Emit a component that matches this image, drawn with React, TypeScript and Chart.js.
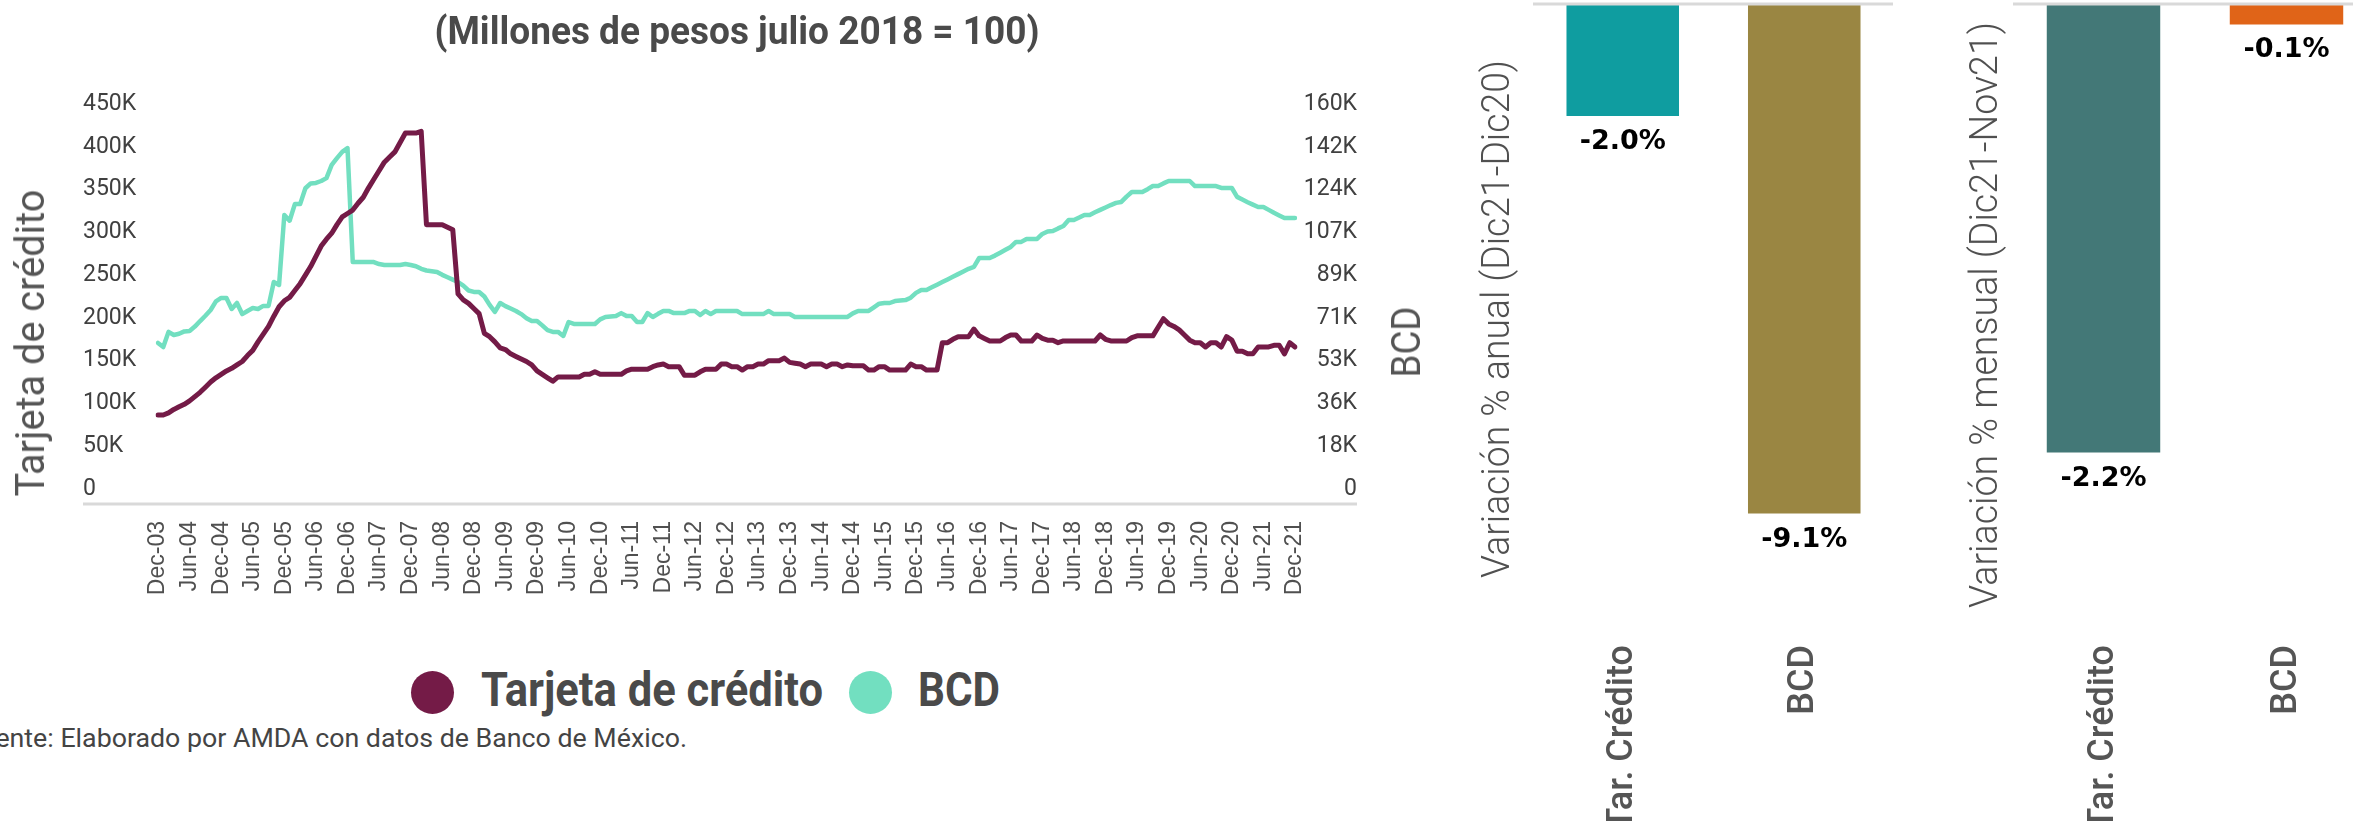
import React, { useEffect, useRef } from 'react';
import { Chart, registerables } from 'chart.js';

Chart.register(...registerables);
Chart.defaults.font.family = 'Roboto';

// ---------------- DATA ----------------
const TITLE = '(Millones de pesos julio 2018 = 100)';
const SERIES_NAMES = ['Tarjeta de crédito', 'BCD'];
const SOURCE = 'Fuente: Elaborado por AMDA con datos de Banco de México.';

const MONTH_NAMES = ['Jan', 'Feb', 'Mar', 'Apr', 'May', 'Jun', 'Jul', 'Aug', 'Sep', 'Oct', 'Nov', 'Dec'];
const FIRST_MONTH_INDEX = 11; // Dec
const FIRST_YEAR = 2003;

// Tarjeta de crédito, thousands of pesos, monthly Dec-03 .. Dec-21
const TARJETA = [
  86.5, 86.5, 89, 93, 96, 99, 103, 108, 113, 119,
  125, 130, 134, 138, 141, 145, 149, 156, 162, 172,
  181, 190, 202, 213, 220, 224, 232, 240, 250, 260,
  272, 284, 292, 299, 309, 318, 322, 326, 334, 341,
  352, 362, 372, 382, 388, 394, 405, 416, 416, 416,
  418, 309, 309, 309, 309, 306, 303, 228, 221, 217,
  211, 205, 182, 178, 172, 165, 163, 158, 155, 152,
  149, 145, 138, 134, 130, 126, 131, 131, 131, 131,
  131, 134, 134, 137, 134, 134, 134, 134, 134, 138,
  140, 140, 140, 140, 143, 145, 146, 143, 143, 143,
  133, 133, 133, 137, 140, 140, 140, 146, 146, 143,
  143, 139, 143, 143, 146, 146, 150, 150, 150, 153,
  148, 147, 146, 143, 146, 146, 146, 143, 146, 146,
  143, 145, 144, 144, 144, 139, 139, 143, 143, 139,
  139, 139, 139, 146, 143, 143, 139, 139, 139, 171,
  171, 175, 178, 178, 178, 187, 179, 176, 173, 173,
  173, 177, 180, 180, 173, 173, 173, 180, 176, 174,
  174, 171, 173, 173, 173, 173, 173, 173, 173, 180,
  175, 173, 173, 173, 173, 177, 179, 179, 179, 179,
  189, 199, 193, 190, 186, 180, 174, 171, 171, 166,
  171, 171, 166, 178, 174, 161, 161, 158, 158, 166,
  166, 166, 168, 168, 158, 171, 166,
];

// BCD, thousands of pesos, monthly Dec-03 .. Dec-21
const BCD = [
  60.7, 59.0, 65.3, 64.0, 64.5, 65.5, 65.7, 67.5, 69.8, 72,
  74.4, 78, 79.4, 79.4, 74.8, 77.3, 72.7, 74, 75.2, 74.8,
  76.1, 76.1, 86.0, 84.8, 113.9, 111.5, 118.4, 118.4, 125, 127,
  127.2, 128, 129.2, 134.7, 137.5, 140.1, 141.7, 94.3, 94.3, 94.3,
  94.3, 94.3, 93.5, 93.1, 93.1, 93.1, 93.1, 93.5, 93.1, 92.6,
  91.5, 90.8, 90.5, 90.2, 89, 88, 87, 86, 84.5, 82.5,
  81.9, 81.9, 80, 76.5, 73.6, 77.3, 76, 75, 74, 72.7,
  71, 69.8, 69.8, 68, 66, 65.3, 65.3, 63.6, 69.4, 68.6,
  68.6, 68.6, 68.6, 68.6, 70.5, 71.5, 71.7, 71.9, 73.1, 71.9,
  71.9, 69.4, 69.4, 73.1, 71.5, 72.8, 74.0, 74.0, 73.1, 73.1,
  73.1, 74.0, 74.0, 72.3, 74.0, 72.7, 74.0, 74.0, 74.0, 74.0,
  74.0, 72.7, 72.7, 72.7, 72.7, 72.7, 74.0, 72.7, 72.7, 72.7,
  72.7, 71.5, 71.5, 71.5, 71.5, 71.5, 71.5, 71.5, 71.5, 71.5,
  71.5, 71.5, 73, 74.0, 74.0, 74.0, 75.5, 77, 77.3, 77.3,
  78.1, 78.3, 78.5, 79.5, 81.5, 82.7, 82.7, 83.8, 84.9, 86,
  87.1, 88.2, 89.3, 90.4, 91.5, 92.3, 96.0, 96.0, 96.0, 97,
  98.2, 99.4, 100.6, 102.7, 102.7, 103.9, 103.9, 103.9, 106, 107,
  107.2, 108.3, 109.3, 111.8, 111.8, 112.8, 113.9, 113.9, 115, 116,
  117, 118, 118.9, 119.3, 121.5, 123.4, 123.4, 123.4, 124.6, 125.9,
  125.9, 127, 128.0, 128.0, 128.0, 128.0, 128.0, 125.9, 125.9, 125.9,
  125.9, 125.9, 125.1, 125.1, 125.1, 121.4, 120.3, 119.2, 118.2, 117.2,
  117.2, 116, 114.8, 113.7, 112.6, 112.6, 112.6,
];

const LEFT_TICK_LABELS = ['0', '50K', '100K', '150K', '200K', '250K', '300K', '350K', '400K', '450K'];
const LEFT_STEP = 50;
const RIGHT_TICK_LABELS = ['0', '18K', '36K', '53K', '71K', '89K', '107K', '124K', '142K', '160K'];
const RIGHT_MAX = 160;

const BAR_CATEGORIES = ['Tar. Crédito', 'BCD'];
const ANNUAL_TITLE = 'Variación % anual (Dic21-Dic20)';
const ANNUAL_VALUES = [-2.0, -9.1];
const MONTHLY_TITLE = 'Variación % mensual (Dic21-Nov21)';
const MONTHLY_VALUES = [-2.2, -0.1];

// ---------------- STYLE ----------------
const C_TARJETA = '#741B47';
const C_BCD = '#72DFC0';
const ANNUAL_COLORS = ['#0F9DA0', '#9A8642'];
const MONTHLY_COLORS = ['#437877', '#E06418'];
const TEXT = '#4a4a4a';

const DATE_LABELS: string[] = TARJETA.map((_, i) => {
  const k = FIRST_MONTH_INDEX + i;
  const yy = (FIRST_YEAR + Math.floor(k / 12)) % 100;
  return `${MONTH_NAMES[k % 12]}-${String(yy).padStart(2, '0')}`;
});

const measureCanvas = typeof document !== 'undefined' ? document.createElement('canvas') : null;
function measure(text: string, font: string): number {
  const ctx = measureCanvas!.getContext('2d')!;
  ctx.font = font;
  return ctx.measureText(text).width;
}

type LabelProps = {
  text: string; x: number; y: number; size: number; weight?: number | string;
  color?: string; family?: string; rotate?: number; fit?: number; fitText?: string;
  anchor?: 'center' | 'left' | 'right';
};

function Label(p: LabelProps) {
  const family = p.family ?? 'Roboto';
  const font = `${p.weight ?? 400} ${p.size}px ${family}`;
  const w = measure(p.fitText ?? p.text, font);
  const sx = p.fit && w > 0 ? p.fit / w : 1;
  const anchor = p.anchor ?? 'center';
  const tx = anchor === 'center' ? '-50%' : anchor === 'left' ? '0%' : '-100%';
  const ox = anchor === 'center' ? '50%' : anchor === 'left' ? '0%' : '100%';
  return (
    <div
      style={{
        position: 'absolute', left: p.x, top: p.y, whiteSpace: 'nowrap', font,
        lineHeight: 1, color: p.color ?? TEXT, transformOrigin: `${ox} 50%`,
        transform: `translate(${tx},-50%) rotate(${p.rotate ?? 0}deg) scaleX(${sx})`,
      }}
    >
      {p.text}
    </div>
  );
}

function LineChart() {
  const ref = useRef<HTMLCanvasElement>(null);
  useEffect(() => {
    const baseLine = {
      id: 'baseLine',
      beforeDatasetsDraw(chart: any) {
        const { ctx } = chart;
        const y = chart.chartArea.bottom;
        ctx.save();
        ctx.strokeStyle = '#d9d9d9';
        ctx.lineWidth = 3;
        ctx.beginPath();
        ctx.moveTo(chart.scales.y.left, y);
        ctx.lineTo(chart.scales.y1.right, y);
        ctx.stroke();
        ctx.restore();
      },
    };
    const chart = new Chart(ref.current!, {
      type: 'line',
      data: {
        labels: DATE_LABELS,
        datasets: [
          { label: SERIES_NAMES[0], data: TARJETA, yAxisID: 'y', borderColor: C_TARJETA, backgroundColor: C_TARJETA, borderWidth: 5, pointRadius: 0, tension: 0, borderJoinStyle: 'round', borderCapStyle: 'round' },
          { label: SERIES_NAMES[1], data: BCD, yAxisID: 'y1', borderColor: C_BCD, backgroundColor: C_BCD, borderWidth: 4.5, pointRadius: 0, tension: 0, borderJoinStyle: 'round', borderCapStyle: 'round' },
        ],
      },
      options: {
        animation: false,
        responsive: false,
        devicePixelRatio: 1,
        layout: { padding: { left: 83, right: 83, top: 104, bottom: 0 } },
        plugins: { legend: { display: false }, tooltip: { enabled: false }, title: { display: false } },
        scales: {
          x: {
            grid: { display: false, drawTicks: false },
            border: { display: false },
            ticks: {
              autoSkip: false, minRotation: 90, maxRotation: 90, padding: 17, color: '#505050',
              font: { family: 'Liberation Sans', size: 23 },
              callback: (_v: any, i: number) => (i % 6 === 0 ? DATE_LABELS[i] : ''),
            },
            afterFit: (s: any) => { s.height = 136; },
          },
          y: {
            position: 'left', min: -17.53, max: 450,
            grid: { display: false }, border: { display: false },
            afterBuildTicks: (s: any) => { s.ticks = LEFT_TICK_LABELS.map((_, k) => ({ value: k * LEFT_STEP })); },
            ticks: { crossAlign: 'far', padding: 0, color: '#404040', font: { size: 23 }, callback: (_v: any, i: number) => LEFT_TICK_LABELS[i] },
            afterFit: (s: any) => { s.width = 75; },
          },
          y1: {
            position: 'right', min: -6.23, max: RIGHT_MAX,
            grid: { display: false }, border: { display: false },
            afterBuildTicks: (s: any) => { s.ticks = RIGHT_TICK_LABELS.map((_, k) => ({ value: (k * RIGHT_MAX) / (RIGHT_TICK_LABELS.length - 1) })); },
            ticks: { crossAlign: 'far', padding: 0, color: '#404040', font: { size: 23 }, callback: (_v: any, i: number) => RIGHT_TICK_LABELS[i] },
            afterFit: (s: any) => { s.width = 62; },
          },
        },
      } as any,
      plugins: [baseLine],
    });
    return () => chart.destroy();
  }, []);
  return <canvas ref={ref} width={1440} height={640} style={{ position: 'absolute', left: 0, top: 0, width: 1440, height: 640 }} />;
}

type BarProps = { left: number; width: number; padLeft: number; padRight: number; min: number; values: number[]; colors: string[] };

function BarPanel(p: BarProps) {
  const ref = useRef<HTMLCanvasElement>(null);
  useEffect(() => {
    const zeroLine = {
      id: 'zeroLine',
      afterDatasetsDraw(chart: any) {
        const { ctx, chartArea } = chart;
        const y = chart.scales.y.getPixelForValue(0);
        ctx.save();
        ctx.strokeStyle = '#d9d9d9';
        ctx.lineWidth = 3;
        ctx.beginPath();
        ctx.moveTo(chartArea.left + 1, y);
        ctx.lineTo(chartArea.right - 2, y);
        ctx.stroke();
        ctx.restore();
      },
    };
    const valueLabels = {
      id: 'valueLabels',
      afterDatasetsDraw(chart: any) {
        const { ctx } = chart;
        const meta = chart.getDatasetMeta(0);
        ctx.save();
        ctx.fillStyle = '#000';
        ctx.font = 'bold 27px "DejaVu Sans"';
        ctx.textAlign = 'center';
        ctx.textBaseline = 'middle';
        meta.data.forEach((el: any, i: number) => {
          const v = chart.data.datasets[0].data[i] as number;
          ctx.fillText(`${v.toFixed(1)}%`, el.x, el.y + 26);
        });
        ctx.restore();
      },
    };
    const chart = new Chart(ref.current!, {
      type: 'bar',
      data: {
        labels: BAR_CATEGORIES,
        datasets: [{ data: p.values, backgroundColor: p.colors, borderWidth: 0, barPercentage: 0.62, categoryPercentage: 1 }],
      },
      options: {
        animation: false,
        responsive: false,
        devicePixelRatio: 1,
        layout: { padding: { left: p.padLeft, right: p.padRight, top: 4, bottom: 0 } },
        plugins: { legend: { display: false }, tooltip: { enabled: false } },
        scales: {
          x: {
            grid: { display: false, drawTicks: false },
            border: { display: false },
            ticks: { autoSkip: false, minRotation: 90, maxRotation: 90, padding: 15, color: '#555', font: { size: 36, weight: '500' } },
            afterFit: (s: any) => { s.height = 191; },
          },
          y: { display: false, min: p.min, max: 0 },
        },
      } as any,
      plugins: [zeroLine, valueLabels],
    });
    return () => chart.destroy();
  }, []);
  return <canvas ref={ref} width={p.width} height={821} style={{ position: 'absolute', left: p.left, top: 0, width: p.width, height: 821 }} />;
}

export default function App() {
  return (
    <div style={{ position: 'absolute', left: 0, top: 0, width: 2353, height: 821, overflow: 'hidden', background: '#fff' }}>
      <LineChart />
      <Label text={TITLE} x={737} y={31} size={38} weight={700} fit={605} />
      <Label text={SERIES_NAMES[0]} x={31} y={343} size={40} weight={400} color="#555" rotate={-90} fit={307} />
      <Label text={SERIES_NAMES[1]} x={1407} y={342} size={40} weight={400} color="#555" rotate={-90} fit={71} />

      <div style={{ position: 'absolute', left: 432 - 21.5, top: 692 - 21.5, width: 43, height: 43, borderRadius: '50%', background: C_TARJETA }} />
      <Label text={SERIES_NAMES[0]} x={481} y={690} size={48} weight={700} anchor="left" fit={342} />
      <div style={{ position: 'absolute', left: 870 - 21.5, top: 692 - 21.5, width: 43, height: 43, borderRadius: '50%', background: C_BCD }} />
      <Label text={SERIES_NAMES[1]} x={918} y={690} size={48} weight={700} anchor="left" fit={82} />

      <Label text={SOURCE} x={687} y={738} size={25} weight={400} color="#444" anchor="right" fit={454} fitText="AMDA con datos de Banco de México." />

      <BarPanel left={1440} width={470} padLeft={92} padRight={15} min={-11.18} values={ANNUAL_VALUES} colors={ANNUAL_COLORS} />
      <Label text={ANNUAL_TITLE} x={1496} y={319} size={38} weight={300} color="#505050" rotate={-90} fit={518} />

      <BarPanel left={1910} width={470} padLeft={102} padRight={2} min={-3.07} values={MONTHLY_VALUES} colors={MONTHLY_COLORS} />
      <Label text={MONTHLY_TITLE} x={1984} y={315} size={38} weight={300} color="#505050" rotate={-90} fit={586} />
    </div>
  );
}
